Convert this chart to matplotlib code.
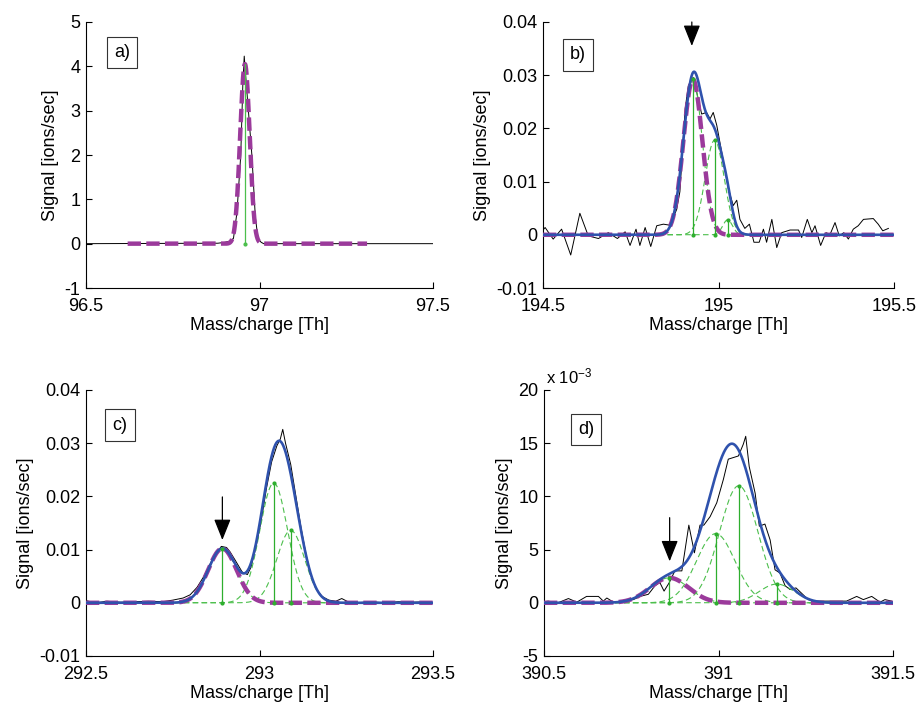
import numpy as np
import matplotlib
matplotlib.use("Agg")
import matplotlib.pyplot as plt

plt.rcParams['font.family'] = ['Liberation Sans', 'DejaVu Sans']
plt.rcParams['axes.unicode_minus'] = False
plt.rcParams['mathtext.fontset'] = 'custom'
plt.rcParams['mathtext.rm'] = 'Liberation Sans'
plt.rcParams['mathtext.it'] = 'Liberation Sans:italic'

# ---- raw spectra ----
# panel a, signal in ions/sec
a_mz = [96.500, 96.880, 96.900, 96.915, 96.925, 96.935, 96.946, 96.952, 96.956,
        96.962, 96.970, 96.978, 96.988, 96.996, 97.005, 97.012, 97.500]
a_sig = [0.0, 0.01, 0.03, 0.06, 0.12, 0.7, 2.0, 3.6, 4.23,
         3.6, 2.8, 2.0, 0.6, 0.1, 0.03, 0.0, 0.0]

# panel b, signal in 1e-3 ions/sec
b_mz = [194.500, 194.506, 194.529, 194.553, 194.579, 194.605, 194.629, 194.658, 194.686,
        194.712, 194.734, 194.748, 194.765, 194.776, 194.791, 194.807, 194.824, 194.843,
        194.862, 194.881, 194.890, 194.905, 194.914, 194.928, 194.940, 194.952, 194.966,
        194.976, 194.985, 194.995, 195.009, 195.028, 195.042, 195.052, 195.061, 195.075,
        195.088, 195.101, 195.116, 195.128, 195.137, 195.152, 195.166, 195.180, 195.204,
        195.228, 195.237, 195.253, 195.266, 195.275, 195.291, 195.306, 195.318, 195.332,
        195.344, 195.357, 195.370, 195.384, 195.398, 195.413, 195.441, 195.455, 195.468,
        195.484]
b_sig = [0.9, 1.37, -0.81, 1.06, -3.8, 4.05, -0.2, -0.7, 0.4,
         -0.7, 0.56, -2.0, 1.06, -2.0, 1.37, -2.2, 1.7, 2.0,
         1.8, 4.8, 8.1, 23.7, 28.0, 29.6, 26.2, 22.7, 23.0,
         21.8, 23.0, 20.6, 15.6, 8.7, 5.5, 6.5, 2.9, 1.2,
         2.0, -1.4, -1.4, 1.06, -1.4, 2.9, -2.4, 0.4, 0.9,
         0.9, -0.5, 2.9, 0.4, 1.7, -2.0, 0.4, 0.1, 2.3,
         -0.2, 0.4, -0.8, 1.06, 1.7, 2.9, 3.05, 2.0, 0.75,
         1.2]

# panel c, signal in 1e-3 ions/sec
c_mz = [292.500, 292.530, 292.560, 292.600, 292.640, 292.680, 292.720, 292.750, 292.780,
        292.800, 292.820, 292.840, 292.860, 292.875, 292.890, 292.905, 292.915, 292.930,
        292.950, 292.965, 292.975, 292.990, 293.005, 293.020, 293.035, 293.050, 293.060,
        293.067, 293.075, 293.090, 293.105, 293.120, 293.135, 293.150, 293.165, 293.180,
        293.200, 293.220, 293.237, 293.255, 293.280, 293.320, 293.360, 293.400, 293.440,
        293.480, 293.500]
c_sig = [0.4, 0.0, 0.3, 0.1, 0.2, 0.3, 0.2, 0.5, 0.9,
         1.5, 2.9, 5.0, 7.6, 9.2, 10.6, 10.4, 9.6, 8.0,
         5.8, 5.3, 6.6, 10.5, 15.5, 21.5, 26.5, 29.5, 30.8,
         32.6, 30.0, 26.0, 20.0, 14.0, 8.8, 4.8, 2.5, 1.2,
         0.5, 0.3, 0.8, 0.2, 0.0, 0.2, 0.0, 0.2, 0.1,
         0.2, 0.0]

# panel d, signal in 1e-3 ions/sec
d_mz = [390.500, 390.512, 390.540, 390.570, 390.594, 390.622, 390.656, 390.670, 390.680,
        390.699, 390.727, 390.756, 390.775, 390.799, 390.818, 390.832, 390.844, 390.859,
        390.875, 390.895, 390.915, 390.931, 390.947, 390.958, 390.976, 390.995, 391.014,
        391.028, 391.057, 391.071, 391.078, 391.088, 391.105, 391.117, 391.133, 391.148,
        391.162, 391.176, 391.191, 391.205, 391.222, 391.238, 391.257, 391.277, 391.300,
        391.329, 391.367, 391.396, 391.415, 391.439, 391.463, 391.477, 391.496]
d_sig = [0.1, 0.16, 0.0, 0.4, 0.06, 0.6, 0.6, 0.16, 0.45,
         0.06, 0.16, 0.3, 0.6, 0.8, 1.6, 1.9, 1.1, 1.9,
         3.0, 3.0, 7.3, 4.7, 7.3, 7.3, 8.1, 9.4, 11.6,
         13.5, 13.8, 14.9, 15.65, 12.8, 10.3, 7.2, 7.4, 5.9,
         3.1, 2.8, 1.6, 1.25, 1.4, 0.9, 0.3, 0.16, 0.16,
         0.16, 0.16, 0.6, 0.3, 0.6, 0.06, 0.3, 0.16]

# ---- fitted peak components: centre, height, width (sigma) ----
a_centres = [96.958]
a_heights = [4.05]
a_widths = [0.0136]
a_fit_range = [96.62, 97.31]

b_centres = [194.927, 194.989, 195.026]
b_heights = [29.2, 17.8, 2.8]
b_widths = [0.027, 0.027, 0.014]

c_centres = [292.893, 293.041, 293.090]
c_heights = [10.2, 22.5, 13.6]
c_widths = [0.041, 0.040, 0.040]

d_centres = [390.859, 390.992, 391.058, 391.167]
d_heights = [2.35, 6.5, 11.0, 1.76]
d_widths = [0.055, 0.055, 0.055, 0.050]

# arrow (x, tail, tip) marking the peak of interest
b_arrow = [194.924, 0.0400, 0.0355]
c_arrow = [292.893, 0.0199, 0.0118]
d_arrow = [390.860, 8.0, 3.9]

MAGENTA = '#9b3a9b'
BLUE = '#2f52ad'
GREEN = '#2eae2e'
GREEN_LT = '#4cbf4c'


def gauss(x, c, h, w):
    return h * np.exp(-0.5 * ((x - c) / w) ** 2)


def style_axes(ax, xlim, ylim, xticks, yticks, yticklabels):
    ax.set_xlim(*xlim)
    ax.set_ylim(*ylim)
    ax.set_xticks(xticks)
    ax.set_xticklabels([('%g' % t) for t in xticks])
    ax.set_yticks(yticks)
    ax.set_yticklabels(yticklabels)
    for s in ['top', 'right']:
        ax.spines[s].set_visible(False)
    for s in ['left', 'bottom']:
        ax.spines[s].set_linewidth(0.8)
    ax.tick_params(direction='in', length=4, width=0.8, labelsize=13)
    ax.tick_params(axis='x', pad=7)
    ax.tick_params(axis='y', pad=4)
    ax.set_xlabel('Mass/charge [Th]', fontsize=13, labelpad=1.5)
    ax.set_ylabel('Signal [ions/sec]', fontsize=13, labelpad=4)


def panel_label(ax, txt, x, y):
    ax.text(x, y, txt, transform=ax.transAxes, ha='center', va='center', fontsize=13,
            bbox=dict(boxstyle='square,pad=0.4', fc='white', ec='#333333', lw=0.8))


def draw_fit(ax, mz, sig, centres, heights, widths, scale, xlim):
    x = np.linspace(xlim[0], xlim[1], 1200)
    total = np.zeros_like(x)
    ax.plot(np.array(mz), np.array(sig) * scale, color='k', lw=0.7, zorder=2)
    for c, h, w in zip(centres, heights, widths):
        comp = gauss(x, c, h, w) * scale
        total += comp
        ax.plot(x, comp, color=GREEN_LT, lw=0.8, dashes=(5, 3), zorder=3)
    ax.plot(x, gauss(x, centres[0], heights[0], widths[0]) * scale, color=MAGENTA,
            lw=3.2, dashes=(3, 1.2), zorder=4)
    ax.plot(x, total, color=BLUE, lw=1.9, zorder=5)
    for c, h in zip(centres, heights):
        ax.plot([c, c], [0, h * scale], color=GREEN, lw=0.9, zorder=6,
                marker='.', markersize=4)


def arrow(ax, spec):
    ax.annotate('', xy=(spec[0], spec[2]), xytext=(spec[0], spec[1]),
                arrowprops=dict(arrowstyle='-|>,head_length=0.65,head_width=0.26',
                                color='k', lw=0.9, shrinkA=0, shrinkB=0,
                                mutation_scale=20), zorder=8)


fig = plt.figure(figsize=(9.17, 7.07), dpi=100)
W, H = 917.0, 707.0
ax_a = fig.add_axes([86 / W, 1 - 288 / H, 347 / W, 266 / H])
ax_b = fig.add_axes([543 / W, 1 - 288 / H, 351 / W, 266 / H])
ax_c = fig.add_axes([86 / W, 1 - 656 / H, 347 / W, 266 / H])
ax_d = fig.add_axes([544 / W, 1 - 656 / H, 349 / W, 266 / H])

# a)
ax_a.plot(a_mz, a_sig, color='k', lw=0.7, zorder=2)
xa = np.linspace(a_fit_range[0], a_fit_range[1], 1200)
ax_a.plot(xa, gauss(xa, a_centres[0], a_heights[0], a_widths[0]), color=MAGENTA,
          lw=3.2, dashes=(3, 1.2), zorder=4)
ax_a.plot([a_centres[0]] * 2, [0, a_heights[0]], color=GREEN_LT, lw=0.9, zorder=6,
          marker='.', markersize=4, markevery=[0])
style_axes(ax_a, (96.5, 97.5), (-1, 5), [96.5, 97, 97.5], range(-1, 6),
           [str(v) for v in range(-1, 6)])
panel_label(ax_a, 'a)', 0.104, 0.885)

# b)
draw_fit(ax_b, b_mz, b_sig, b_centres, b_heights, b_widths, 1e-3, (194.5, 195.5))
style_axes(ax_b, (194.5, 195.5), (-0.01, 0.04), [194.5, 195, 195.5],
           [-0.01, 0, 0.01, 0.02, 0.03, 0.04], ['-0.01', '0', '0.01', '0.02', '0.03', '0.04'])
panel_label(ax_b, 'b)', 0.10, 0.876)
arrow(ax_b, b_arrow)

# c)
draw_fit(ax_c, c_mz, c_sig, c_centres, c_heights, c_widths, 1e-3, (292.5, 293.5))
style_axes(ax_c, (292.5, 293.5), (-0.01, 0.04), [292.5, 293, 293.5],
           [-0.01, 0, 0.01, 0.02, 0.03, 0.04], ['-0.01', '0', '0.01', '0.02', '0.03', '0.04'])
panel_label(ax_c, 'c)', 0.098, 0.868)
arrow(ax_c, c_arrow)

# d)  (axis in units of 1e-3)
draw_fit(ax_d, d_mz, d_sig, d_centres, d_heights, d_widths, 1.0, (390.5, 391.5))
style_axes(ax_d, (390.5, 391.5), (-5, 20), [390.5, 391, 391.5],
           [-5, 0, 5, 10, 15, 20], ['-5', '0', '5', '10', '15', '20'])
panel_label(ax_d, 'd)', 0.12, 0.852)
arrow(ax_d, d_arrow)
ax_d.text(0.005, 1.012, r'x 10$^{\mathregular{-3}}$', transform=ax_d.transAxes,
          ha='left', va='bottom', fontsize=12)

fig.savefig('out.png', dpi=100)
